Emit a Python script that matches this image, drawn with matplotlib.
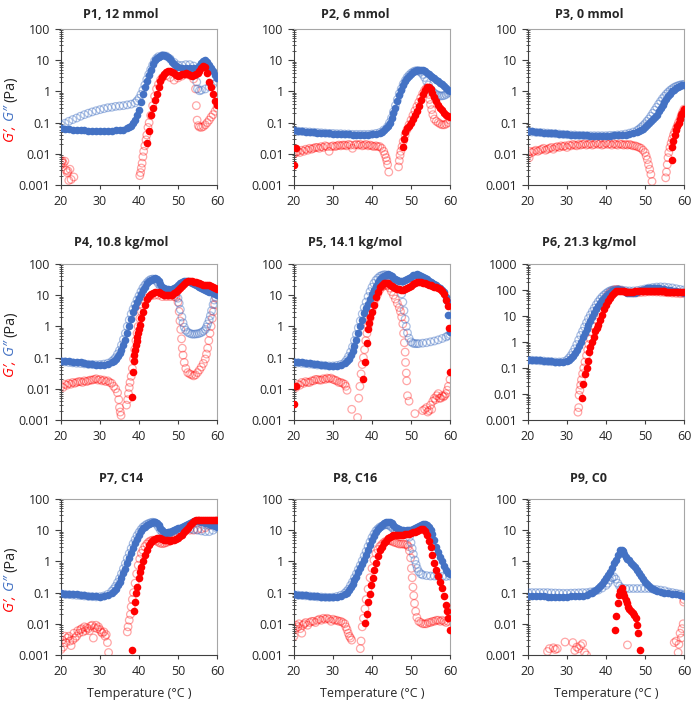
import matplotlib.pyplot as plt
from matplotlib.ticker import LogLocator, NullFormatter

plt.rcParams['font.family'] = ['Open Sans', 'DejaVu Sans']

# (temperature °C, modulus Pa)
# g1 = G' (red), g2 = G'' (blue); heat = filled, cool = open markers

p1_g2_heat = [(20, .065), (21, .064), (22, .062), (23, .06), (24, .058), (25, .057), (26, .056), (27, .055), (28, .054),
              (29, .053), (30, .053), (31, .053), (32, .054), (33, .055), (34, .056), (35, .058), (36, .06), (37, .065),
              (37.5, .07), (38, .08), (38.5, .1), (39, .12), (39.5, .17), (40, .26), (40.5, .45), (41, .8), (41.5, 1.4),
              (42, 2.2), (42.5, 3.3), (43, 5), (43.5, 7.5), (44, 10), (44.5, 12), (45, 13), (45.5, 14), (46, 14.5),
              (46.5, 14.5), (47, 14), (47.5, 13), (48, 11), (48.5, 9), (49, 7.5), (49.5, 6.5), (50, 6), (51, 5.8),
              (52, 5.6), (53, 5.6), (54, 5.6), (55, 5.8), (55.5, 6.5), (56, 8), (56.5, 9.5), (57, 10), (57.5, 8.5),
              (58, 7), (58.5, 5.5), (59, 4.4), (59.5, 3.4), (60, 2.6)]
p1_g2_cool = [(20, .085), (21, .095), (22, .11), (23, .125), (24, .14), (25, .16), (26, .18), (27, .2), (28, .22),
              (29, .24), (30, .26), (31, .28), (32, .3), (33, .31), (34, .33), (35, .34), (36, .35), (37, .37),
              (38, .39), (39, .43), (39.5, .5), (40, .6), (40.5, .8), (41, 1.1), (41.5, 1.6), (42, 2.4), (42.5, 3.5),
              (43, 5), (43.5, 7), (44, 9.5), (44.5, 11.5), (45, 13), (46, 14), (47, 13.5), (48, 11), (49, 8.5),
              (50, 7), (51, 6.8), (52, 7.2), (53, 7.2), (54, 6.5), (54.5, 5), (54.8, 2), (55, 1.2), (55.5, 1.05),
              (56, 1.1), (57, 1.2), (58, 1.4), (59, 1.7), (60, 2.1)]
p1_g1_heat = [(42, .023), (42.5, .053), (43, .17), (43.5, .29), (44, .55), (44.5, .8), (45, 1.4), (45.5, 2.1), (46, 3),
              (46.5, 3.6), (47, 4.2), (47.5, 4.4), (48, 4.4), (48.5, 4.2), (49, 3.8), (49.5, 3.4), (50, 3.2),
              (50.5, 3.3), (51, 3.5), (51.5, 3.7), (52, 3.8), (52.5, 3.6), (53, 3.3), (53.5, 3.2), (54, 3.3),
              (54.5, 3.6), (55, 4), (55.5, 4.6), (56, 5.5), (56.5, 6.5), (57, 6), (57.5, 3.8), (58, 2), (58.5, 1.4),
              (59, .8), (59.5, .5), (60, .38)]
p1_g1_cool = [(20, .0045), (20.2, .0055), (20.3, .006), (20.6, .005), (21, .0058), (21.3, .003), (21.6, .0025),
              (21.8, .0028), (22, .0014), (22.3, .0032), (22.6, .0015), (23.3, .0018),
              (40.2, .002), (40.4, .0025), (40.6, .0035), (40.8, .005), (41, .008), (41.2, .012), (41.5, .018),
              (41.8, .028), (42, .04), (42.3, .07), (42.6, .1), (43, .17), (43.5, .35), (44, .7), (44.5, 1.2),
              (45, 1.7), (45.5, 2.3), (46, 2.8), (47, 3.2), (48, 2.8), (49, 2.3), (50, 2.7), (51, 3.1), (52, 3.5),
              (53, 3.3), (54, 2.5), (54.5, 1.2), (54.7, .35), (54.9, .12), (55.2, .08), (55.5, .072), (56, .07),
              (56.5, .075), (57, .085), (57.5, .1), (58, .12), (58.5, .15), (59, .18), (59.5, .23), (60, .3)]

p2_g2_heat = [(20, .057), (21, .055), (22, .053), (23, .051), (24, .05), (25, .049), (26, .048), (27, .047), (28, .046),
              (29, .045), (30, .044), (31, .044), (32, .043), (33, .042), (34, .042), (35, .041), (36, .041),
              (37, .041), (38, .041), (39, .041), (40, .042), (41, .043), (42, .046), (42.5, .05), (43, .057),
              (43.5, .067), (44, .08), (44.5, .1), (45, .14), (45.5, .2), (46, .3), (46.5, .48), (47, .75), (47.5, 1.1),
              (48, 1.6), (48.5, 2.1), (49, 2.7), (49.5, 3.2), (50, 3.7), (50.5, 4.1), (51, 4.5), (51.5, 4.8), (52, 5),
              (52.5, 5), (53, 4.8), (53.5, 4.4), (54, 4), (54.5, 3.6), (55, 3.2), (55.5, 2.9), (56, 2.6), (56.5, 2.3),
              (57, 2.1), (57.5, 1.9), (58, 1.7), (58.5, 1.5), (59, 1.3), (59.5, 1.15), (60, 1.0)]
p2_g2_cool = [(20, .055), (21, .053), (22, .052), (23, .051), (24, .05), (25, .049), (26, .048), (27, .047), (28, .046),
              (29, .045), (30, .045), (31, .044), (32, .044), (33, .043), (34, .043), (35, .042), (36, .042),
              (37, .042), (38, .042), (39, .042), (40, .043), (41, .045), (42, .048), (43, .058), (44, .075),
              (44.5, .1), (45, .14), (45.5, .22), (46, .35), (46.5, .55), (47, .85), (47.5, 1.2), (48, 1.7),
              (48.5, 2.2), (49, 2.8), (49.5, 3.3), (50, 3.8), (50.5, 4.2), (51, 4.5), (51.5, 4.6), (52, 4.5),
              (52.5, 4.1), (53, 3.5), (53.5, 2.8), (54, 2.1), (54.5, 1.6), (55, 1.2), (55.5, 1), (56, .88),
              (56.5, .8), (57, .75), (57.5, .72), (58, .72), (58.5, .74), (59, .8), (59.5, .88), (60, .95)]
p2_g1_heat = [(20, .0045), (20.5, .015), (48, .016), (48.2, .03), (48.5, .05), (49, .065), (49.5, .08), (50, .1),
              (50.5, .13), (51, .17), (51.5, .24), (52, .35), (52.5, .55), (53, .85), (53.5, 1.15), (54, 1.35),
              (54.5, 1.4), (55, 1.2), (55.5, .9), (56, .65), (56.5, .48), (57, .37), (57.5, .3), (58, .25),
              (58.5, .21), (59, .18), (59.5, .165), (60, .15)]
p2_g1_cool = [(20, .01), (20.5, .011), (21, .012), (21.5, .011), (22, .013), (22.5, .012), (23, .014), (23.5, .013),
              (24, .015), (24.5, .014), (25, .015), (25.5, .016), (26, .016), (26.5, .015), (27, .017), (27.5, .016),
              (28, .018), (28.5, .017), (29, .012), (29.5, .017), (30, .018), (30.5, .017), (31, .018), (31.5, .019),
              (32, .018), (32.5, .019), (33, .019), (33.5, .018), (34, .02), (34.5, .019), (35, .015), (35.5, .019),
              (36, .02), (36.5, .019), (37, .02), (37.5, .018), (38, .019), (38.5, .02), (39, .018), (39.5, .019),
              (40, .018), (40.5, .017), (41, .018), (41.5, .017), (42, .017), (42.5, .015), (43, .012), (43.3, .0095),
              (43.6, .0075), (43.8, .006), (44, .0045), (44.3, .0026),
              (46.8, .0038), (47, .006), (47.2, .009), (47.4, .012), (47.7, .017), (48, .025), (48.5, .04), (49, .06),
              (49.5, .085), (50, .12), (50.5, .17), (51, .24), (51.5, .33), (52, .45), (52.5, .62), (53, .85),
              (53.5, 1.1), (54, 1.3), (54.4, 1.1), (54.6, .8), (54.8, .55), (55, .38), (55.3, .26), (55.6, .18),
              (56, .13), (56.5, .11), (57, .1), (57.5, .09), (58, .085), (58.5, .085), (59, .09), (59.5, .1), (60, .12)]

p3_g2_heat = [(20, .055), (21, .053), (22, .051), (23, .05), (24, .048), (25, .047), (26, .046), (27, .045), (28, .044),
              (29, .043), (30, .042), (31, .041), (32, .04), (33, .04), (34, .039), (35, .039), (36, .038), (37, .038),
              (38, .038), (39, .038), (40, .038), (41, .038), (42, .039), (43, .039), (44, .04), (45, .041), (46, .043),
              (47, .046), (48, .05), (48.5, .054), (49, .058), (49.5, .064), (50, .072), (50.5, .082), (51, .094),
              (51.5, .11), (52, .13), (52.5, .15), (53, .18), (53.5, .23), (54, .29), (54.5, .37), (55, .47),
              (55.5, .58), (56, .7), (56.5, .85), (57, 1.0), (57.5, 1.15), (58, 1.3), (58.5, 1.42), (59, 1.52),
              (59.5, 1.6), (60, 1.65)]
p3_g2_cool = [(20, .052), (21, .05), (22, .049), (23, .048), (24, .047), (25, .046), (26, .045), (27, .044), (28, .043),
              (29, .042), (30, .041), (31, .04), (32, .04), (33, .039), (34, .039), (35, .038), (36, .038), (37, .038),
              (38, .038), (39, .038), (40, .038), (41, .039), (42, .039), (43, .04), (44, .041), (45, .043), (46, .046),
              (47, .05), (48, .056), (48.5, .062), (49, .07), (49.5, .08), (50, .092), (50.5, .11), (51, .13),
              (51.5, .16), (52, .2), (52.5, .25), (53, .31), (53.5, .39), (54, .48), (54.5, .59), (55, .7), (55.5, .83),
              (56, .96), (56.5, 1.1), (57, 1.22), (57.5, 1.35), (58, 1.45), (58.5, 1.53), (59, 1.6), (59.5, 1.65),
              (60, 1.68)]
p3_g1_heat = [(56.8, .0065), (57, .016), (57.3, .025), (57.6, .04), (58, .06), (58.3, .075), (58.6, .095), (59, .13),
              (59.3, .17), (59.6, .21), (60, .28)]
p3_g1_cool = [(20, .009), (20.3, .0075), (20.5, .012), (21, .011), (21.5, .012), (22, .013), (22.5, .012), (23, .013),
              (23.5, .014), (24, .015), (24.5, .013), (25, .014), (25.5, .015), (26, .016), (26.5, .014), (27, .016),
              (27.5, .017), (28, .016), (28.5, .018), (29, .017), (29.5, .018), (30, .016), (30.5, .019), (31, .018),
              (31.5, .02), (32, .019), (32.5, .018), (33, .02), (33.5, .019), (34, .02), (34.5, .021), (35, .019),
              (35.5, .02), (36, .021), (36.5, .019), (37, .02), (37.5, .022), (38, .02), (38.5, .021), (39, .019),
              (39.5, .02), (40, .022), (40.5, .02), (41, .021), (41.5, .019), (42, .021), (42.5, .02), (43, .019),
              (43.5, .021), (44, .02), (44.5, .019), (45, .02), (45.5, .019), (46, .02), (46.5, .019), (47, .018),
              (47.5, .018), (48, .017), (48.5, .016), (49, .015), (49.5, .013), (50, .011), (50.3, .0085),
              (50.6, .0065), (50.9, .0045), (51.2, .0032), (51.5, .0022), (51.8, .0013),
              (55.3, .0017), (55.5, .0026), (55.7, .0045), (55.9, .0075), (56.1, .011), (56.4, .016), (56.7, .022),
              (57, .03), (57.3, .04), (57.6, .05), (58, .065), (58.3, .08), (58.6, .1), (59, .13), (59.3, .17),
              (59.6, .21), (60, .27)]

p4_g2_heat = [(20, .08), (21, .078), (22, .076), (23, .074), (24, .072), (25, .07), (26, .067), (27, .064), (28, .061),
              (29, .059), (30, .058), (31, .06), (32, .063), (33, .07), (33.5, .077), (34, .09), (34.5, .11), (35, .14),
              (35.5, .18), (36, .25), (36.5, .38), (37, .6), (37.5, 1.0), (38, 1.7), (38.5, 2.8), (39, 4.3), (39.5, 6),
              (40, 8), (40.5, 11), (41, 15), (41.5, 19), (42, 24), (42.5, 28), (43, 31), (43.5, 34), (44, 35),
              (44.5, 33), (45, 28), (45.5, 23), (46, 19), (46.5, 17), (47, 16), (47.5, 15.5), (48, 15), (48.5, 15.5),
              (49, 17), (49.5, 19), (50, 21), (50.5, 24), (51, 26), (51.5, 28), (52, 29), (52.5, 28.5), (53, 27),
              (53.5, 25), (54, 23), (54.5, 21), (55, 19.5), (55.5, 18), (56, 17), (56.5, 16), (57, 15), (57.5, 14),
              (58, 13), (58.5, 12.3), (59, 11.5), (59.5, 11), (60, 10.5)]
p4_g2_cool = [(20, .075), (21, .073), (22, .07), (23, .068), (24, .066), (25, .065), (26, .063), (27, .061), (28, .06),
              (29, .059), (30, .06), (31, .062), (32, .066), (33, .075), (33.5, .085), (34, .1), (34.5, .13),
              (35, .17), (35.5, .25), (36, .38), (36.5, .6), (37, 1.0), (37.5, 1.6), (38, 2.5), (38.5, 3.6), (39, 5),
              (39.5, 7), (40, 9.5), (40.5, 13), (41, 17), (41.5, 21), (42, 25), (42.5, 29), (43, 32), (43.5, 33),
              (44, 32), (44.5, 28), (45, 23), (45.5, 19), (46, 16), (46.5, 14), (47, 13), (47.5, 13), (48, 13.5),
              (48.5, 14), (49, 13), (49.5, 11), (50, 8), (50.3, 5.5), (50.6, 3.5), (51, 2.0), (51.3, 1.3),
              (51.6, .95), (52, .75), (52.5, .65), (53, .6), (53.5, .57), (54, .56), (54.5, .57), (55, .58),
              (55.5, .6), (56, .64), (56.5, .7), (57, .8), (57.3, .95), (57.6, 1.2), (58, 1.6), (58.3, 2.2),
              (58.6, 3.2), (59, 5), (59.3, 7), (59.6, 9), (60, 11)]
p4_g1_heat = [(38.2, .0055), (38.4, .035), (38.6, .08), (38.8, .12), (39, .18), (39.2, .25), (39.4, .33), (39.6, .45),
              (39.8, .6), (40, .8), (40.3, 1.1), (40.6, 1.8), (41, 3), (41.5, 5), (42, 7.5), (42.5, 9.5), (43, 11),
              (43.5, 12), (44, 12.5), (45, 12.5), (45.5, 12), (46, 11), (46.5, 10.5), (47, 10), (47.5, 10), (48, 10),
              (48.5, 10.5), (49, 11.5), (49.5, 13), (50, 15), (50.5, 17), (51, 20), (51.5, 23), (52, 26), (52.5, 28),
              (53, 28.5), (53.5, 28), (54, 27), (54.5, 26), (55, 25), (55.5, 24), (56, 23), (56.5, 22), (57, 21.5),
              (57.5, 21), (58, 20.5), (58.5, 19.5), (59, 18.5), (59.5, 17), (60, 15.5)]
p4_g1_cool = [(20, .012), (20.5, .011), (21, .014), (21.5, .013), (22, .015), (22.5, .014), (23, .016), (23.5, .015),
              (24, .016), (24.5, .017), (25, .017), (25.5, .016), (26, .018), (26.5, .017), (27, .018), (27.5, .019),
              (28, .019), (28.5, .02), (29, .021), (29.5, .019), (30, .02), (30.5, .018), (31, .019), (31.5, .017),
              (32, .018), (32.5, .016), (33, .015), (33.5, .012), (34, .01), (34.5, .0075), (34.8, .0045),
              (35, .0025), (35.2, .0018), (35.4, .0014),
              (36.8, .003), (37.1, .0045), (37.3, .007), (37.5, .011), (37.7, .016), (38, .025), (38.3, .045),
              (38.6, .09), (38.9, .18), (39.2, .35), (39.5, .6), (39.8, 1), (40.2, 1.8), (40.6, 3), (41, 4.5),
              (41.5, 6.5), (42, 8), (43, 9.5), (44, 10), (45, 10), (46, 9), (47, 9), (48, 9), (49, 9), (49.5, 8.5),
              (50, 6), (50.3, 3), (50.5, 1.5), (50.7, .8), (50.9, .4), (51.1, .2), (51.3, .12), (51.6, .07),
              (52, .045), (52.5, .033), (53, .03), (53.5, .028), (54, .026), (54.5, .028), (55, .033), (55.5, .04),
              (56, .05), (56.5, .065), (57, .09), (57.3, .13), (57.6, .2), (57.9, .35), (58.2, .6), (58.5, 1),
              (58.8, 1.8), (59.1, 3), (59.4, 5), (59.7, 8), (60, 12)]

p5_g2_heat = [(20, .074), (21, .072), (22, .07), (23, .068), (24, .066), (25, .063), (26, .061), (27, .059), (28, .057),
              (29, .055), (30, .054), (31, .055), (32, .058), (33, .066), (33.5, .075), (34, .09), (34.5, .12),
              (35, .16), (35.5, .24), (36, .37), (36.5, .6), (37, 1.0), (37.5, 1.6), (38, 2.6), (38.5, 3.8), (39, 5.3),
              (39.5, 7.5), (40, 11), (40.5, 15), (41, 20), (41.5, 26), (42, 32), (42.5, 37), (43, 42), (43.5, 46),
              (44, 47), (44.5, 45), (45, 41), (45.5, 36), (46, 32), (46.5, 30), (47, 29), (47.5, 29), (48, 29.5),
              (48.5, 30), (49, 32), (49.5, 35), (50, 39), (50.5, 43), (51, 46), (51.5, 47), (52, 45), (52.5, 42),
              (53, 39), (53.5, 35), (54, 32), (54.5, 29), (55, 27), (55.5, 25), (56, 23), (56.5, 21), (57, 19),
              (57.5, 17), (58, 15), (58.5, 12.5), (59, 9), (59.3, 6.5), (59.6, 2.4), (60, .68)]
p5_g2_cool = [(20, .07), (21, .068), (22, .066), (23, .064), (24, .062), (25, .06), (26, .058), (27, .057), (28, .055),
              (29, .054), (30, .054), (31, .056), (32, .06), (33, .07), (33.5, .085), (34, .11), (34.5, .15), (35, .22),
              (35.5, .35), (36, .55), (36.5, .9), (37, 1.5), (37.5, 2.5), (38, 4), (38.5, 6), (39, 9), (39.5, 13),
              (40, 18), (40.5, 24), (41, 30), (41.5, 35), (42, 40), (42.5, 43), (43, 45), (43.5, 45), (44, 43),
              (44.5, 40), (45, 36), (45.5, 33), (46, 30), (46.5, 28), (47, 24), (47.3, 17), (47.6, 11), (47.9, 6),
              (48.2, 3.2), (48.5, 1.7), (48.8, 1), (49.1, .62), (49.5, .42), (50, .32), (50.5, .29), (51, .28),
              (51.5, .28), (52, .28), (53, .29), (54, .3), (55, .32), (56, .34), (57, .37), (58, .41), (59, .46),
              (59.5, .5), (60, .55)]
p5_g1_heat = [(20, .0032), (20.5, .012), (37.7, .02), (38.2, .07), (38.6, .3), (39, .8), (39.3, 1.3), (39.6, 2),
              (40, 3), (40.5, 5), (41, 8.5), (41.5, 13), (42, 18), (42.5, 22), (43, 24), (43.5, 25), (44, 24),
              (44.5, 22), (45, 20), (45.5, 18.5), (46, 17), (46.5, 16), (47, 15.5), (47.5, 15), (48, 15), (48.5, 15.5),
              (49, 16.5), (49.5, 18), (50, 20), (50.5, 23), (51, 25), (51.5, 27), (52, 27), (52.5, 26), (53, 25),
              (53.5, 24), (54, 23), (54.5, 22), (55, 21), (55.5, 20), (56, 19), (56.5, 18), (57, 17), (57.5, 15.5),
              (58, 14), (58.5, 11), (59, 7), (59.4, 4.5), (59.7, .9), (60, .035)]
p5_g1_cool = [(20, .012), (20.5, .011), (21, .014), (21.5, .013), (22, .016), (22.5, .015), (23, .017), (23.5, .016),
              (24, .016), (24.5, .018), (25, .018), (25.5, .02), (26, .02), (26.5, .019), (27, .019), (27.5, .021),
              (28, .02), (28.5, .022), (29, .021), (29.5, .022), (30, .02), (30.5, .019), (31, .018), (31.5, .016),
              (32, .016), (32.5, .015), (33, .014), (33.3, .012), (33.6, .009), (34.8, .0022), (36.3, .0012),
              (36.6, .005), (36.9, .012), (37.2, .03), (37.5, .06), (37.8, .1), (38.1, .18), (38.4, .35), (38.7, .6),
              (39, 1), (39.5, 1.8), (40, 3.5), (40.5, 5.5), (41, 8), (41.5, 11), (42, 15), (42.5, 18), (43, 20),
              (43.5, 21), (44, 20), (44.5, 17), (45, 13), (45.5, 10), (46, 7.5), (46.5, 5.5), (47, 4), (47.3, 3),
              (47.6, 2), (47.9, 1.2), (48.1, .6), (48.3, .3), (48.5, .15), (48.6, .07), (48.8, .032), (48.9, .018),
              (49.1, .006), (49.5, .004), (51, .0016), (53, .002), (53.5, .0022), (54, .0025), (54.3, .0018),
              (54.6, .002), (55, .003), (55.3, .0022), (55.6, .004), (56, .005), (56.3, .0045), (56.6, .006),
              (57, .007), (57.3, .005), (57.6, .005), (58, .006), (58.3, .0055), (58.6, .006), (59, .007),
              (59.3, .009), (59.6, .012), (60, .02)]

p6_g2_heat = [(20, .21), (21, .205), (22, .2), (23, .195), (24, .19), (25, .185), (26, .18), (27, .172), (28, .168),
              (29, .17), (30, .185), (30.5, .21), (31, .25), (31.5, .3), (32, .38), (32.5, .5), (33, .68), (33.5, 1),
              (34, 1.5), (34.5, 2.2), (35, 3.2), (35.5, 4.5), (36, 6.5), (36.5, 9), (37, 13), (37.5, 18), (38, 25),
              (38.5, 32), (39, 40), (39.5, 50), (40, 60), (40.5, 70), (41, 80), (41.5, 90), (42, 98), (42.5, 103),
              (43, 105), (43.5, 103), (44, 98), (44.5, 92), (45, 85), (45.5, 80), (46, 77), (46.5, 76), (47, 77),
              (47.5, 80), (48, 85), (48.5, 90), (49, 96), (49.5, 103), (50, 110), (50.5, 116), (51, 120),
              (51.5, 122), (52, 122), (52.5, 120), (53, 118), (53.5, 115), (54, 112), (54.5, 108), (55, 105),
              (55.5, 102), (56, 100), (56.5, 97), (57, 95), (57.5, 92), (58, 90), (58.5, 87), (59, 85), (59.5, 82),
              (60, 80)]
p6_g2_cool = [(20, .2), (21, .198), (22, .195), (23, .19), (24, .185), (25, .18), (26, .175), (27, .17), (28, .17),
              (29, .175), (30, .2), (30.5, .24), (31, .3), (31.5, .4), (32, .55), (32.5, .8), (33, 1.2), (33.5, 1.8),
              (34, 2.6), (34.5, 3.8), (35, 5.5), (35.5, 8), (36, 11), (36.5, 15), (37, 20), (37.5, 27), (38, 35),
              (38.5, 44), (39, 54), (39.5, 64), (40, 74), (40.5, 84), (41, 92), (41.5, 98), (42, 102), (43, 104),
              (44, 100), (45, 95), (46, 92), (47, 92), (48, 96), (49, 102), (50, 110), (51, 118), (52, 125),
              (53, 130), (54, 132), (55, 130), (56, 125), (57, 120), (58, 112), (59, 105), (60, 100)]
p6_g1_heat = [(33.8, .007), (34.2, .024), (34.6, .06), (35, .1), (35.3, .18), (35.7, .4), (36, .65), (36.4, 1),
              (36.8, 1.6), (37.2, 2.6), (37.6, 3.5), (38, 4.5), (38.5, 7), (39, 11), (39.5, 18), (40, 27), (40.5, 38),
              (41, 50), (41.5, 65), (42, 78), (42.5, 88), (43, 93), (43.5, 94), (44, 92), (44.5, 88), (45, 85),
              (45.5, 84), (46, 84), (46.5, 85), (47, 87), (47.5, 89), (48, 90), (48.5, 91), (49, 92), (49.5, 93),
              (50, 94), (50.5, 94), (51, 94), (51.5, 93), (52, 92), (52.5, 91), (53, 90), (53.5, 90), (54, 89),
              (54.5, 88), (55, 88), (55.5, 87), (56, 86), (56.5, 85), (57, 84), (57.5, 83), (58, 82), (58.5, 82),
              (59, 83), (59.5, 84), (60, 86)]
p6_g1_cool = [(32.8, .002), (33, .003), (33.1, .009), (33.3, .014), (33.5, .022), (33.7, .035), (34, .06), (34.3, .1),
              (34.6, .17), (35, .3), (35.3, .5), (35.6, .8), (36, 1.3), (36.5, 2.3), (37, 4), (37.5, 7), (38, 11),
              (38.5, 17), (39, 26), (39.5, 38), (40, 52), (40.5, 66), (41, 80), (41.5, 92), (42, 100), (42.5, 104),
              (43, 104), (43.5, 100), (44, 95), (45, 85), (46, 80), (47, 78), (48, 78), (49, 80), (50, 82), (51, 85),
              (52, 85), (53, 84), (54, 82), (55, 80), (56, 78), (57, 76), (58, 74), (59, 72), (60, 72)]

p7_g2_heat = [(20, .095), (21, .093), (22, .091), (23, .089), (24, .087), (25, .085), (26, .082), (27, .079), (28, .077),
              (29, .075), (30, .074), (31, .077), (32, .084), (33, .098), (33.5, .11), (34, .13), (34.5, .17),
              (35, .22), (35.5, .3), (36, .41), (36.5, .58), (37, .86), (37.5, 1.25), (38, 1.8), (38.5, 2.6), (39, 3.8),
              (39.5, 5.3), (40, 7), (40.5, 9.2), (41, 11.5), (41.5, 13), (42, 14.5), (42.5, 16), (43, 17),
              (43.5, 18.2), (44, 18.5), (44.5, 17), (45, 14.5), (45.5, 12), (46, 10.2), (46.5, 9), (47, 8.4),
              (47.5, 8.5), (48, 9), (48.5, 9.5), (49, 10.2), (49.5, 10.8), (50, 11.5), (50.5, 12.2), (51, 13),
              (51.5, 14), (52, 15), (52.5, 16), (53, 17), (53.5, 18.5), (54, 19.7), (54.5, 20), (55, 20), (55.5, 19.5),
              (56, 19), (56.5, 18), (57, 17), (57.5, 16.5), (58, 16), (58.5, 15), (59, 14.5), (59.5, 13.5), (60, 13)]
p7_g2_cool = [(20, .09), (21, .088), (22, .086), (23, .084), (24, .082), (25, .08), (26, .078), (27, .076), (28, .074),
              (29, .073), (30, .074), (31, .078), (32, .088), (33, .11), (33.5, .13), (34, .16), (34.5, .21), (35, .28),
              (35.5, .4), (36, .58), (36.5, .85), (37, 1.25), (37.5, 1.8), (38, 2.6), (38.5, 3.7), (39, 5), (39.5, 6.7),
              (40, 8.5), (40.5, 10.5), (41, 12.5), (41.5, 14), (42, 15.5), (42.5, 16.5), (43, 17.5), (43.5, 18),
              (44, 17.5), (44.5, 15.5), (45, 12.5), (45.5, 10), (46, 8.5), (46.5, 7.8), (47, 7.5), (47.5, 7.8),
              (48, 8.3), (49, 9.2), (50, 10), (51, 10.5), (52, 11), (53, 11), (54, 10.5), (55, 10), (56, 9.5), (57, 9),
              (58, 9), (59, 10), (60, 11.5)]
p7_g1_heat = [(38.2, .0015), (38.6, .026), (39, .05), (39.3, .095), (39.6, .15), (40, .3), (40.3, .45), (40.6, .65),
              (41, 1.0), (41.5, 1.6), (42, 2.4), (42.5, 3.3), (43, 4.2), (43.5, 4.8), (44, 5.3), (44.5, 5.6), (45, 5.8),
              (45.5, 5.6), (46, 5.3), (46.5, 5), (47, 4.8), (47.5, 4.7), (48, 4.6), (48.5, 4.7), (49, 4.9), (49.5, 5.2),
              (50, 5.6), (50.5, 6.3), (51, 7.2), (51.5, 8.5), (52, 10), (52.5, 12), (53, 14.5), (53.5, 17.5), (54, 20),
              (54.5, 21.5), (55, 22), (55.5, 22), (56, 21.5), (56.5, 21), (57, 21), (57.5, 20.5), (58, 20.5),
              (58.5, 21), (59, 21), (59.5, 21.5), (60, 22)]
p7_g1_cool = [(20, .0015), (20.3, .003), (20.6, .0018), (21, .004), (21.3, .0025), (21.6, .0035), (22, .004),
              (22.3, .0028), (22.6, .002), (23, .003), (23.3, .005), (23.6, .0035), (24, .004), (24.3, .006),
              (24.6, .005), (25, .0065), (25.3, .007), (25.6, .0055), (26, .008), (26.3, .006), (26.6, .0075),
              (27, .007), (27.3, .006), (27.6, .0085), (28, .009), (28.3, .0035), (28.6, .0075), (29, .009),
              (29.3, .007), (29.6, .008), (30, .0065), (30.3, .0055), (30.6, .005), (31, .0055), (31.3, .004),
              (31.6, .0045), (31.9, .0025), (32.2, .0012),
              (37, .0055), (37.2, .008), (37.5, .013), (37.8, .02), (38, .035), (38.3, .06), (38.6, .1), (39, .2),
              (39.4, .4), (39.8, .75), (40.2, 1.2), (40.6, 1.8), (41, 2.3), (41.5, 3), (42, 3.6), (42.5, 4.2), (43, 4.6),
              (43.5, 4.8), (44, 4.8), (44.5, 4.5), (45, 4.1), (45.5, 3.8), (46, 3.7), (46.5, 3.8), (47, 4), (47.5, 4.3),
              (48, 4.6), (48.5, 5), (49, 5.5), (49.5, 6.2), (50, 7), (50.5, 8), (51, 9), (52, 10), (53, 10), (54, 10),
              (55, 10.5), (56, 11), (57, 12), (58, 14), (59, 17), (60, 20)]

p8_g2_heat = [(20, .088), (21, .086), (22, .084), (23, .082), (24, .08), (25, .078), (26, .076), (27, .074), (28, .072),
              (29, .071), (30, .071), (31, .074), (32, .078), (33, .09), (33.5, .1), (34, .12), (34.5, .15), (35, .19),
              (35.5, .25), (36, .32), (36.5, .45), (37, .6), (37.5, .82), (38, 1.1), (38.5, 1.6), (39, 2.3), (39.5, 3.3),
              (40, 4.8), (40.5, 6.5), (41, 9), (41.5, 11), (42, 13), (42.5, 15), (43, 17), (43.5, 18.5), (44, 19),
              (44.5, 18), (45, 17), (45.5, 15), (46, 13), (46.5, 11.8), (47, 10.8), (47.5, 10.2), (48, 9.8),
              (48.5, 9.7), (49, 9.8), (49.5, 10), (50, 10.2), (50.5, 10.8), (51, 11.5), (51.5, 12.5), (52, 13.7),
              (52.5, 14.8), (53, 15.5), (53.5, 15.5), (54, 14.8), (54.5, 13), (55, 10.2), (55.5, 7.5), (56, 4.8),
              (56.5, 3), (57, 2), (57.5, 1.4), (58, 1), (58.5, .72), (59, .53), (59.5, .44), (60, .39)]
p8_g2_cool = [(20, .085), (21, .083), (22, .081), (23, .079), (24, .077), (25, .075), (26, .073), (27, .072), (28, .071),
              (29, .07), (30, .071), (31, .075), (32, .082), (33, .095), (33.5, .11), (34, .13), (34.5, .17), (35, .22),
              (35.5, .3), (36, .4), (36.5, .55), (37, .75), (37.5, 1.05), (38, 1.5), (38.5, 2.1), (39, 3), (39.5, 4.2),
              (40, 5.8), (40.5, 7.5), (41, 9.5), (41.5, 11), (42, 12.5), (42.5, 13.5), (43, 14.5), (43.5, 15), (44, 15),
              (44.5, 14), (45, 12.5), (45.5, 11), (46, 10), (46.5, 9.5), (47, 9.2), (48, 9), (49, 9), (49.3, 8),
              (49.6, 6), (50, 4), (50.3, 2.6), (50.6, 1.7), (51, 1.1), (51.3, .8), (51.6, .6), (52, .47), (52.5, .4),
              (53, .37), (54, .35), (55, .34), (56, .34), (57, .33), (58, .33), (59, .33), (60, .34)]
p8_g1_heat = [(38.2, .011), (38.6, .02), (39, .05), (39.4, .09), (39.8, .17), (40.2, .3), (40.6, .55), (41, .9),
              (41.5, 1.5), (42, 2.3), (42.5, 3), (43, 3.8), (43.5, 4.6), (44, 5.5), (44.5, 6), (45, 6.5), (45.5, 6.8),
              (46, 7), (46.5, 7), (47, 7), (47.5, 7.1), (48, 7.2), (48.5, 7.3), (49, 7.5), (49.5, 7.7), (50, 8),
              (50.5, 8.5), (51, 9), (51.5, 9.7), (52, 10.5), (52.5, 11), (53, 11), (53.5, 9.5), (54, 7), (54.5, 4.5),
              (55, 2.8), (55.5, 1.6), (56, .9), (56.5, .55), (57, .35), (57.5, .22), (58, .14), (58.5, .08), (59, .04),
              (59.3, .025), (59.6, .015), (60, .0065)]
p8_g1_cool = [(20, .004), (20.3, .007), (20.6, .009), (21, .008), (21.3, .01), (21.6, .007), (22, .005), (22.3, .009),
              (22.6, .01), (23, .011), (23.5, .009), (24, .011), (24.5, .012), (25, .012), (25.5, .011), (26, .013),
              (26.5, .014), (27, .013), (27.5, .015), (28, .014), (28.5, .015), (29, .014), (29.5, .012), (30, .014),
              (30.5, .013), (31, .013), (31.5, .012), (32, .012), (32.5, .011), (33, .01), (33.3, .008), (33.6, .0065),
              (33.9, .005), (34.2, .004), (34.5, .0035), (34.8, .003),
              (37, .0016), (37.2, .0028), (37.5, .008), (37.8, .015), (38.2, .03), (38.5, .06), (39, .13), (39.5, .3),
              (40, .6), (40.5, 1.1), (41, 1.8), (41.5, 2.4), (42, 3), (42.5, 3.5), (43, 4), (43.5, 4.4), (44, 4.7),
              (44.5, 4.6), (45, 4.5), (45.5, 4.2), (46, 4), (46.5, 3.8), (47, 3.6), (47.5, 3.6), (48, 3.6), (48.5, 3.5),
              (49, 3.4), (49.3, 3), (49.6, 2.2), (49.9, 1.3), (50.1, .6), (50.3, .3), (50.5, .15), (50.7, .08),
              (50.9, .045), (51.2, .025), (51.5, .016), (52, .012), (52.5, .011), (53, .01), (53.5, .01), (54, .01),
              (54.5, .011), (55, .011), (55.5, .012), (56, .012), (56.5, .013), (57, .013), (57.5, .012), (58, .013),
              (58.5, .012), (59, .011), (59.5, .012), (60, .014)]

p9_g2_heat = [(20, .078), (21, .077), (22, .076), (23, .075), (24, .075), (25, .074), (26, .074), (27, .074), (28, .074),
              (29, .074), (30, .074), (31, .075), (32, .076), (33, .077), (34, .078), (35, .085), (36, .095),
              (36.5, .1), (37, .11), (37.5, .125), (38, .14), (38.5, .16), (39, .19), (39.5, .23), (40, .29),
              (40.5, .37), (41, .47), (41.5, .62), (42, .86), (42.5, 1.15), (43, 1.6), (43.5, 2.3), (44, 2.4),
              (44.3, 2.1), (44.6, 1.7), (45, 1.35), (45.5, 1.2), (46, 1.1), (46.5, .92), (47, .76), (47.5, .64),
              (48, .53), (48.5, .43), (49, .34), (49.5, .27), (50, .22), (50.5, .19), (51, .16), (51.5, .14),
              (52, .13), (52.5, .12), (53, .11), (54, .105), (55, .1), (56, .095), (57, .09), (58, .088), (59, .085),
              (60, .078)]
p9_g2_cool = [(20, .1), (21, .1), (22, .1), (23, .1), (24, .1), (25, .1), (26, .098), (27, .097), (28, .096), (29, .095),
              (30, .095), (31, .096), (32, .097), (33, .098), (34, .1), (35, .1), (36, .105), (37, .11), (38, .12),
              (39, .14), (40, .17), (40.5, .2), (41, .25), (41.5, .3), (42, .32), (42.5, .27), (43, .2), (43.5, .16),
              (44, .14), (45, .135), (46, .135), (47, .135), (48, .135), (49, .135), (50, .135), (51, .135), (52, .13),
              (53, .125), (54, .12), (55, .115), (56, .105), (57, .1), (58, .095), (59, .09), (60, .085)]
p9_g1_heat = [(42.2, .0065), (42.6, .018), (43, .045), (43.3, .085), (43.7, .11), (44, .14), (44.3, .1), (44.7, .075),
              (45, .06), (45.3, .045), (45.6, .035), (46, .03), (46.4, .025), (46.8, .022), (47.2, .019), (47.6, .015),
              (48, .009), (48.2, .0052), (48.7, .0015)]
p9_g1_cool = [(25, .0013), (25.5, .0016), (26.5, .0017), (27, .0015), (27.5, .0016), (29.5, .0026), (31.5, .0025),
              (32, .0014), (32.5, .0018), (33, .0016), (33.5, .002), (34, .0023), (34.5, .0012), (35, .001),
              (45.5, .0021), (57.5, .0025), (58, .0028), (58.5, .0012), (58.7, .0022), (59, .005), (59.3, .0035),
              (59.5, .007), (59.8, .01), (59.9, .05), (60, .06)]

titles = ['P1, 12 mmol', 'P2, 6 mmol', 'P3, 0 mmol',
          'P4, 10.8 kg/mol', 'P5, 14.1 kg/mol', 'P6, 21.3 kg/mol',
          'P7, C14', 'P8, C16', 'P9, C0']
series = [(p1_g1_heat, p1_g2_heat, p1_g1_cool, p1_g2_cool),
          (p2_g1_heat, p2_g2_heat, p2_g1_cool, p2_g2_cool),
          (p3_g1_heat, p3_g2_heat, p3_g1_cool, p3_g2_cool),
          (p4_g1_heat, p4_g2_heat, p4_g1_cool, p4_g2_cool),
          (p5_g1_heat, p5_g2_heat, p5_g1_cool, p5_g2_cool),
          (p6_g1_heat, p6_g2_heat, p6_g1_cool, p6_g2_cool),
          (p7_g1_heat, p7_g2_heat, p7_g1_cool, p7_g2_cool),
          (p8_g1_heat, p8_g2_heat, p8_g1_cool, p8_g2_cool),
          (p9_g1_heat, p9_g2_heat, p9_g1_cool, p9_g2_cool)]
y_top = [100, 100, 100, 100, 100, 1000, 100, 100, 100]

RED = '#ff0000'
BLUE = '#4472c4'
TXT = '#262626'
W, H = 692, 703
lefts = [61, 294, 528]
tops = [29, 264, 499]
title_x = [121, 355, 589]
title_y = [15, 243, 478]
MS = 30

fig = plt.figure(figsize=(W / 100, H / 100), dpi=100)


def xy(data):
    t, v = zip(*data)
    return list(t), list(v)


for i in range(9):
    r, c = divmod(i, 3)
    ax = fig.add_axes([lefts[c] / W, 1 - (tops[r] + 156) / H, 156 / W, 156 / H])
    g1h, g2h, g1c, g2c = series[i]
    # cooling = open, heating = filled
    x, y = xy(g1c)
    ax.scatter(x, y, s=MS, facecolors='none', edgecolors=(1, 0, 0, 0.35), linewidths=0.9, zorder=2)
    x, y = xy(g2c)
    ax.scatter(x, y, s=MS, facecolors='none', edgecolors=(0.27, 0.45, 0.77, 0.45), linewidths=0.9, zorder=3)
    x, y = xy(g2h)
    ax.scatter(x, y, s=MS, color=BLUE, linewidths=0, zorder=4)
    x, y = xy(g1h)
    ax.scatter(x, y, s=MS, color=RED, linewidths=0, zorder=5)

    ax.set_yscale('log')
    ax.set_ylim(1e-3, y_top[i])
    ax.set_xlim(20, 60)
    ax.set_xticks([20, 30, 40, 50, 60])
    dec = [1e-3, 1e-2, 1e-1, 1, 10, 100, 1000]
    dec = [d for d in dec if d <= y_top[i]]
    ax.set_yticks(dec)
    ax.set_yticklabels(['0.001', '0.01', '0.1', '1', '10', '100', '1000'][:len(dec)])
    ax.yaxis.set_minor_locator(LogLocator(base=10, subs=range(2, 10)))
    ax.yaxis.set_minor_formatter(NullFormatter())
    ax.tick_params(axis='both', which='major', labelsize=9, labelcolor=TXT, color='#404040', length=4, width=0.8)
    ax.tick_params(axis='y', which='minor', color='#404040', length=3, width=0.6, direction='inout')
    ax.tick_params(axis='x', which='major', length=3, pad=4)
    for side in ['top', 'right']:
        ax.spines[side].set_color('#a6a6a6')
        ax.spines[side].set_linewidth(0.8)
    for side in ['left', 'bottom']:
        ax.spines[side].set_color('#404040')
        ax.spines[side].set_linewidth(0.8)

    fig.text(title_x[c] / W, 1 - title_y[r] / H, titles[i], ha='center', va='center',
             fontsize=9, fontweight='bold', color=TXT)
    if r == 2:
        fig.text((lefts[c] + 78) / W, 1 - 693 / H, 'Temperature (°C )', ha='center', va='center',
                 fontsize=9, color=TXT)

# y labels, coloured pieces stacked along the rotated baseline
renderer = fig.canvas.get_renderer()
for r in range(3):
    yc = tops[r] + 80
    pieces = [("G′, ", RED, 'italic'), ("G″ ", BLUE, 'italic'), ("(Pa)", TXT, 'normal')]
    texts = [fig.text(11 / W, 0.5, s, color=col, style=st, rotation=90, ha='center', va='bottom',
                      fontsize=10.5) for s, col, st in pieces]
    hs = [t.get_window_extent(renderer).height for t in texts]
    ypix = yc + sum(hs) / 2
    for t, h in zip(texts, hs):
        t.set_position((11 / W, 1 - ypix / H))
        ypix -= h

fig.savefig('out.png', dpi=100)
